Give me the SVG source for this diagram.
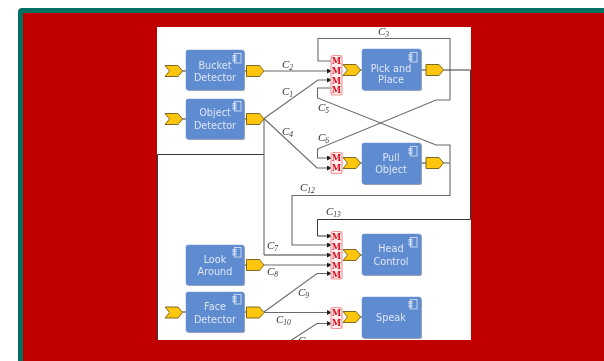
<svg xmlns="http://www.w3.org/2000/svg" width="604" height="361" viewBox="0 0 604 361">
<style>
.c{fill:none;stroke:#6a6a6a;stroke-width:1.1}
.k{fill:none;stroke:#383838;stroke-width:1}
.b{fill:#5f8bd0;stroke:#6d94d4;stroke-width:.5}
.s{fill:#8a8f98;opacity:.8}
.t{font:9.7px "DejaVu Sans",sans-serif;fill:#dde6f6;text-anchor:middle}
.y{fill:#ffc60a;stroke:#7c6a20;stroke-width:1}
.m{fill:#ffecec;stroke:#f49a9a;stroke-width:1.2}
.g{font:bold 8.500px "DejaVu Serif",serif;fill:#e01020;text-anchor:middle}
.l{font:italic 11px "Liberation Serif",serif;fill:#333}
.l tspan{font-size:7.500px}
.i{fill:none;stroke:#dfe8f7;stroke-width:.8}
</style>
<defs>
<filter id="soft" x="0" y="0" width="1" height="1"><feGaussianBlur stdDeviation="0.4"/></filter>
<marker id="a" markerWidth="6" markerHeight="6" refX="5" refY="2.500" orient="auto" markerUnits="userSpaceOnUse"><path d="M0 0L5 2.500L0 5z" fill="#222"/></marker>
<path id="in" d="M0-5.500H13L17.500 0L13 5.500H0L4.500 0z" class="y"/>
<path id="out" d="M0-5.500H13L17.500 0L13 5.500H0z" class="y"/>
<g id="ic"><rect x="-2.500" y="-4.500" width="6.500" height="9.500" class="i"/><rect x="-4" y="-2.500" width="3" height="2" class="i"/><rect x="-4" y="1" width="3" height="2" class="i"/></g>
</defs>
<rect width="604" height="361" fill="#fff"/>
<path d="M18 361V12Q18 8 22 8H604V361z" fill="#007060"/>
<rect x="23" y="13" width="581" height="348" fill="#c00000"/>
<rect x="157" y="27" width="314" height="313" fill="#fff"/>

<g filter="url(#soft)">
<g id="connectors">
<path class="k" d="M157.500 340V154.500H264"/>
<path class="c" d="M264 118.500V255"/>
<path class="k" d="M264 255H332" marker-end="url(#a)"/>
<path class="c" d="M264 71H332" marker-end="url(#a)"/>
<path class="c" d="M264 118.500L318 80H332" marker-end="url(#a)"/>
<path class="c" d="M264 118.500L317 168H332" marker-end="url(#a)"/>
<path class="c" d="M332 61H318V38.500H450V100H436L317.500 149V158H332" marker-end="url(#a)"/>
<path class="c" d="M332 88H317.500V98L436 145H450V195.500H292V245H332" marker-end="url(#a)"/>
<path class="c" d="M443 163H450"/>
<path class="k" d="M443 70H470.500V219.500H317.500V236H332" marker-end="url(#a)"/>
<path class="c" d="M264 265H332" marker-end="url(#a)"/>
<path class="c" d="M264 312L317 273.500H332" marker-end="url(#a)"/>
<path class="c" d="M264 312.500H332" marker-end="url(#a)"/>
<path class="c" d="M290 341L317 323.500H332" marker-end="url(#a)"/>
<path class="k" d="M182 71H186M182 119H186M182 312H186M244 71H247M244 119H247M244 265H247M244 312H247M360 70H362M360 163H362M360 255H362M360 317H362M421 70H426M421 163H426"/>
<text class="l" x="282" y="68">C<tspan dy="2">2</tspan></text>
<text class="l" x="282" y="95">C<tspan dy="2">1</tspan></text>
<text class="l" x="378" y="35">C<tspan dy="2">3</tspan></text>
<text class="l" x="282" y="135">C<tspan dy="2">4</tspan></text>
<text class="l" x="318" y="111">C<tspan dy="2">5</tspan></text>
<text class="l" x="318" y="141">C<tspan dy="2">6</tspan></text>
<text class="l" x="300" y="191">C<tspan dy="2">12</tspan></text>
<text class="l" x="326" y="215">C<tspan dy="2">13</tspan></text>
<text class="l" x="267" y="249">C<tspan dy="2">7</tspan></text>
<text class="l" x="267" y="275">C<tspan dy="2">8</tspan></text>
<text class="l" x="298" y="296">C<tspan dy="2">9</tspan></text>
<text class="l" x="276" y="323">C<tspan dy="2">10</tspan></text>
<text class="l" x="298" y="344">C<tspan dy="2">11</tspan></text>
</g>

<g id="bucket-detector"><use href="#in" x="165" y="71"/><rect class="s" x="187" y="51" width="58" height="40" rx="2"/><rect class="b" x="186" y="50" width="58" height="40" rx="2"/><use href="#ic" x="237" y="58"/><text class="t" x="215" y="69">Bucket</text><text class="t" x="215" y="81">Detector</text><use href="#out" x="246.500" y="71"/></g>
<g id="object-detector"><use href="#in" x="165" y="119"/><rect class="s" x="187" y="100" width="58" height="40" rx="2"/><rect class="b" x="186" y="99" width="58" height="40" rx="2"/><use href="#ic" x="237" y="106"/><text class="t" x="215" y="116">Object</text><text class="t" x="215" y="129">Detector</text><use href="#out" x="246.500" y="119"/></g>
<g id="look-around"><rect class="s" x="187" y="246" width="58" height="40" rx="2"/><rect class="b" x="186" y="245" width="58" height="40" rx="2"/><use href="#ic" x="237" y="252"/><text class="t" x="215" y="263">Look</text><text class="t" x="215" y="275">Around</text><use href="#out" x="246.500" y="265"/></g>
<g id="face-detector"><use href="#in" x="165" y="312.500"/><rect class="s" x="187" y="293" width="58" height="40" rx="2"/><rect class="b" x="186" y="292" width="58" height="40" rx="2"/><use href="#ic" x="237" y="299"/><text class="t" x="215" y="310">Face</text><text class="t" x="215" y="323">Detector</text><use href="#out" x="246.500" y="312.500"/></g>

<g id="pick-and-place"><rect class="m" x="331" y="55.500" width="11" height="39.500" rx="2"/><text class="g" x="336.500" y="64">M</text><text class="g" x="336.500" y="74">M</text><text class="g" x="336.500" y="83.500">M</text><text class="g" x="336.500" y="93">M</text><use href="#in" x="343" y="70"/><rect class="s" x="363" y="50" width="59" height="41" rx="2"/><rect class="b" x="362" y="49" width="59" height="41" rx="2"/><use href="#ic" x="413" y="57"/><text class="t" x="391" y="72">Pick and</text><text class="t" x="391" y="83">Place</text><use href="#out" x="426" y="70"/></g>
<g id="pull-object"><rect class="m" x="331" y="152.500" width="11" height="21" rx="2"/><text class="g" x="336.500" y="161">M</text><text class="g" x="336.500" y="171">M</text><use href="#in" x="343" y="163"/><rect class="s" x="363" y="144" width="59" height="41" rx="2"/><rect class="b" x="362" y="143" width="59" height="41" rx="2"/><use href="#ic" x="413" y="151"/><text class="t" x="391" y="161">Pull</text><text class="t" x="391" y="173">Object</text><use href="#out" x="426" y="163"/></g>
<g id="head-control"><rect class="m" x="331" y="231.500" width="11" height="47.500" rx="2"/><text class="g" x="336.500" y="240">M</text><text class="g" x="336.500" y="249.500">M</text><text class="g" x="336.500" y="259">M</text><text class="g" x="336.500" y="268.500">M</text><text class="g" x="336.500" y="278">M</text><use href="#in" x="343" y="255"/><rect class="s" x="363" y="235" width="59" height="41" rx="2"/><rect class="b" x="362" y="234" width="59" height="41" rx="2"/><use href="#ic" x="413" y="242"/><text class="t" x="391" y="252">Head</text><text class="t" x="391" y="265">Control</text></g>
<g id="speak"><rect class="m" x="331" y="307.500" width="11" height="21" rx="2"/><text class="g" x="336.500" y="316">M</text><text class="g" x="336.500" y="326">M</text><use href="#in" x="343" y="317"/><rect class="s" x="363" y="298" width="59" height="41" rx="2"/><rect class="b" x="362" y="297" width="59" height="41" rx="2"/><use href="#ic" x="413" y="304"/><text class="t" x="391" y="321">Speak</text></g>
</g>

<rect x="23" y="340" width="581" height="21" fill="#c00000"/>
</svg>
